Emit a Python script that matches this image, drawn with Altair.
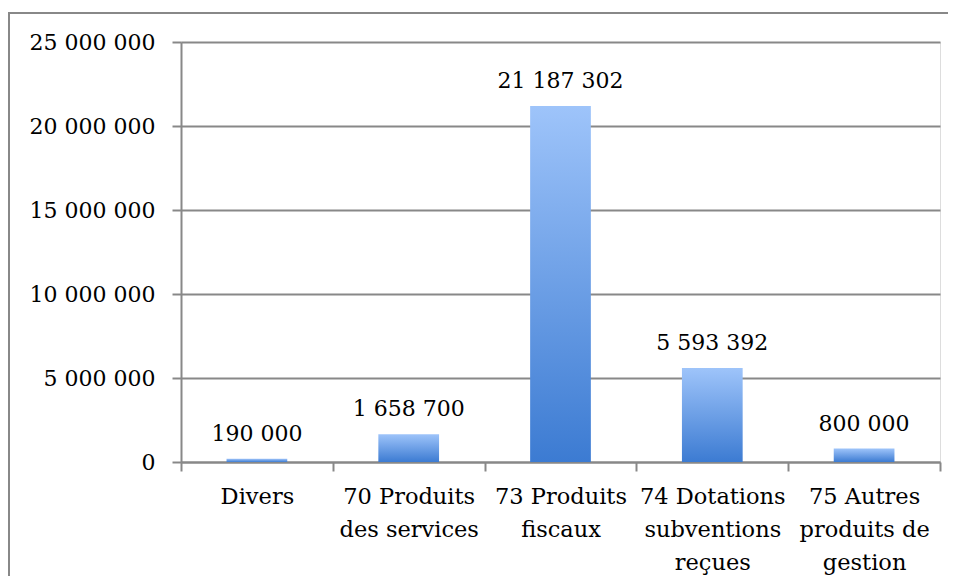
import altair as alt
import pandas as pd

categories = [
    "Divers",
    "70 Produits|des services",
    "73 Produits|fiscaux",
    "74 Dotations|subventions|reçues",
    "75 Autres|produits de|gestion",
]
values = [190000, 1658700, 21187302, 5593392, 800000]
y_ticks = [0, 5000000, 10000000, 15000000, 20000000, 25000000]

df = pd.DataFrame({"cat": categories, "value": values})

FONT = "DejaVu Serif"
GRAY = "#888888"

grad = alt.Gradient(
    gradient="linear",
    stops=[
        alt.GradientStop(color="#3C7BD2", offset=0),
        alt.GradientStop(color="#9EC4FA", offset=1),
    ],
    x1=0, x2=0, y1=1, y2=0,
)

x_enc = alt.X(
    "cat:N",
    sort=None,
    scale=alt.Scale(paddingInner=0, paddingOuter=0),
    axis=alt.Axis(
        title=None,
        labelAngle=0,
        labelExpr="split(datum.label, '|')",
        labelFont=FONT,
        labelFontSize=22.5,
        labelColor="black",
        labelLineHeight=33,
        labelPadding=14,
        labelBaseline="top",
        domainColor=GRAY,
        domainWidth=2,
        tickColor=GRAY,
        tickWidth=2,
        tickSize=9,
        tickBand="extent",
        grid=False,
    ),
)
y_enc = alt.Y(
    "value:Q",
    scale=alt.Scale(domain=[0, 25000000], nice=False),
    axis=alt.Axis(
        title=None,
        values=y_ticks,
        format=",d",
        labelFont=FONT,
        labelFontSize=22,
        labelColor="black",
        labelPadding=17,
        domainColor=GRAY,
        domainWidth=2,
        tickColor=GRAY,
        tickWidth=2,
        tickSize=9,
        grid=True,
        gridColor=GRAY,
        gridWidth=2,
    ),
)

bars = alt.Chart(df).mark_bar(
    color=grad, width=alt.RelativeBandSize(0.4)
).encode(x=x_enc, y=y_enc)

labels = alt.Chart(df).mark_text(
    font=FONT, fontSize=22, color="black", baseline="alphabetic", dy=-18
).encode(x=x_enc, y=y_enc, text=alt.Text("value:Q", format=",d"))

frame_df = pd.DataFrame({"a": [0]})
frame_left = alt.Chart(frame_df).mark_rule(stroke=GRAY, strokeWidth=2).encode(
    x=alt.value(-172), y=alt.value(-30), y2=alt.value(700)
)
frame_top = alt.Chart(frame_df).mark_rule(stroke=GRAY, strokeWidth=2).encode(
    x=alt.value(-173), x2=alt.value(767), y=alt.value(-29)
)

chart = (
    alt.layer(frame_left, frame_top, bars, labels)
    .properties(
        width=759,
        height=420,
        padding={"left": 173, "top": 34, "right": 8, "bottom": 114},
        autosize=alt.AutoSizeParams(type="none"),
    )
    .configure_view(stroke=None)
    .configure(
        locale=alt.Locale(
            number=alt.NumberLocale(
                decimal=",", thousands=" ", grouping=[3], currency=["", " €"]
            )
        )
    )
)

chart.save("out.html", embed_options={"renderer": "svg", "actions": False})
